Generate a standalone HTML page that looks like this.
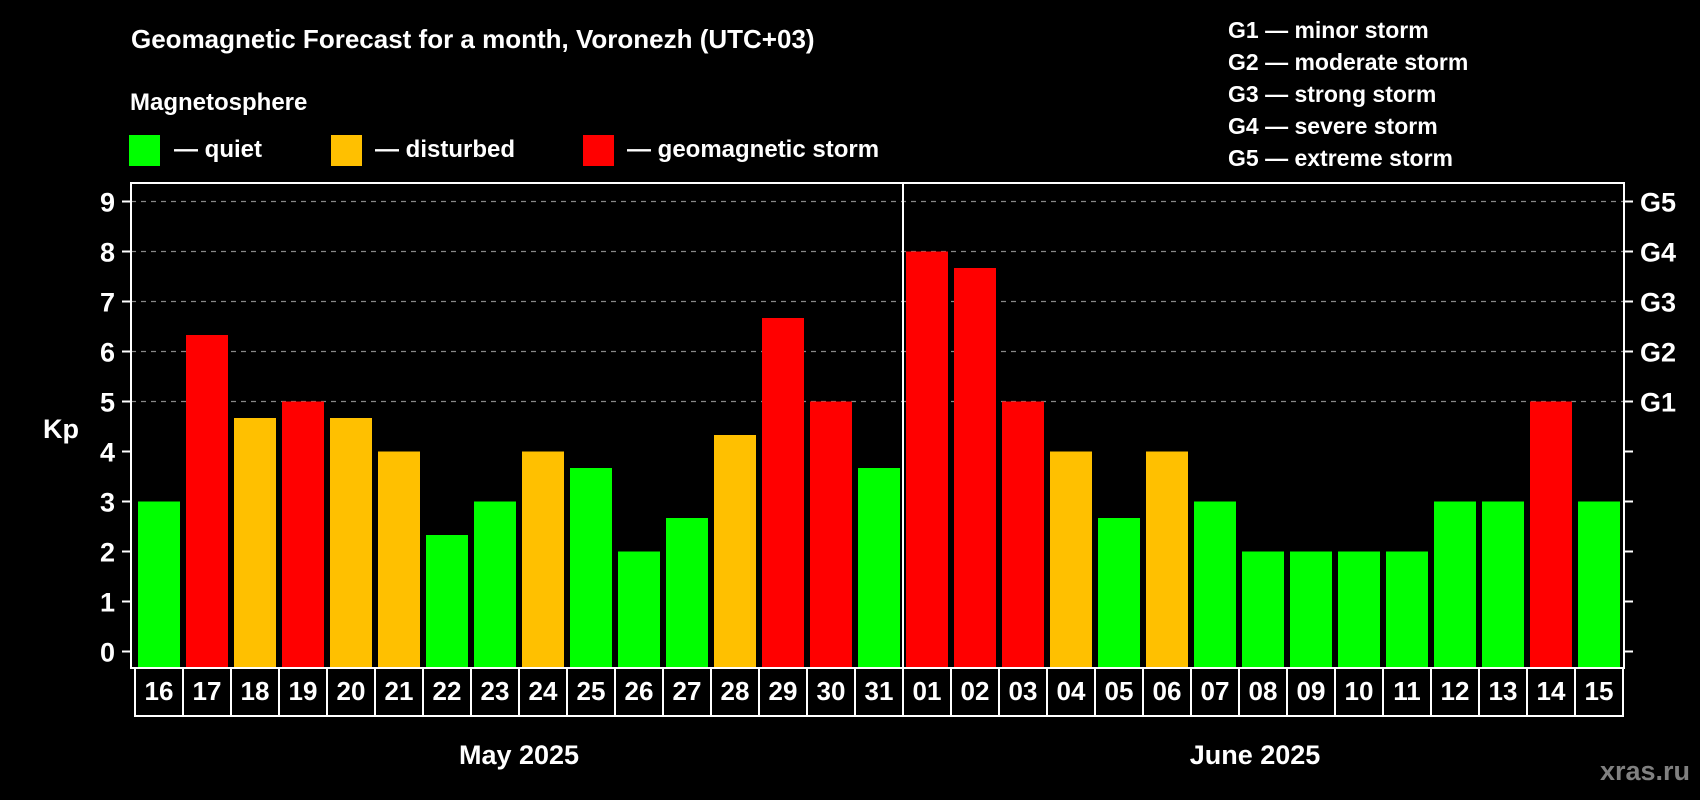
<!DOCTYPE html>
<html><head><meta charset="utf-8">
<style>
body{margin:0;background:#000;width:1700px;height:800px;overflow:hidden}
svg{display:block;font-family:"Liberation Sans",Arial,sans-serif;font-weight:bold}
</style></head><body>
<svg id="c" width="1700" height="800" viewBox="0 0 1700 800">
<rect width="1700" height="800" fill="#000"/>
<text x="131" y="48" font-size="26" fill="#fff">Geomagnetic Forecast for a month, Voronezh (UTC+03)</text>
<text x="130" y="110" font-size="24" fill="#fff">Magnetosphere</text>
<g><rect x="129" y="135" width="31" height="31" fill="#00ff00"/><text x="174" y="157" font-size="24" fill="#fff">— quiet</text></g>
<g><rect x="331" y="135" width="31" height="31" fill="#ffc000"/><text x="375" y="157" font-size="24" fill="#fff">— disturbed</text></g>
<g><rect x="583" y="135" width="31" height="31" fill="#ff0000"/><text x="627" y="157" font-size="24" fill="#fff">— geomagnetic storm</text></g>
<g font-size="23" fill="#fff">
<text x="1228" y="38">G1 — minor storm</text>
<text x="1228" y="70">G2 — moderate storm</text>
<text x="1228" y="102">G3 — strong storm</text>
<text x="1228" y="134">G4 — severe storm</text>
<text x="1228" y="166">G5 — extreme storm</text>
</g>
<text x="43" y="438" font-size="27" fill="#fff">Kp</text>
<g id="grid"></g><g id="bars"></g><g id="axes"></g>
<text x="519" y="764" font-size="27" fill="#fff" text-anchor="middle">May 2025</text>
<text x="1255" y="764" font-size="27" fill="#fff" text-anchor="middle">June 2025</text>
<text x="1690" y="780" font-size="27" fill="#808080" text-anchor="end">xras.ru</text>
</svg>
<script>
const days=["16","17","18","19","20","21","22","23","24","25","26","27","28","29","30","31","01","02","03","04","05","06","07","08","09","10","11","12","13","14","15"];
const kp=[3,6.33,4.67,5,4.67,4,2.33,3,4,3.67,2,2.67,4.33,6.67,5,3.67,8,7.67,5,4,2.67,4,3,2,2,2,2,3,3,5,3];
const yTicks=[0,1,2,3,4,5,6,7,8,9];
const gLabels=["G1","G2","G3","G4","G5"];
const gLevels=[5,6,7,8,9];
const NS="http://www.w3.org/2000/svg";
const L=131,R=1624,T=183,B=668,bandX0=135,band=48,barW=42;
const y=v=>651.5-v*50;
const x=i=>bandX0+i*band;
function mk(tag,attrs,parent,txt){const e=document.createElementNS(NS,tag);for(const k in attrs)e.setAttribute(k,attrs[k]);if(txt!==undefined)e.textContent=txt;parent.appendChild(e);return e;}
const grid=document.getElementById('grid'),bars=document.getElementById('bars'),axes=document.getElementById('axes');
gLevels.forEach(v=>{const l=mk('line',{x1:L,x2:R,y1:y(v),y2:y(v),stroke:'#888','stroke-width':1.3,'stroke-dasharray':'5,5'},grid);

});
kp.forEach((v,i)=>{const col=v<4?'#00ff00':(v<5?'#ffc000':'#ff0000');
const r=mk('rect',{x:x(i)+3,y:y(v),width:barW,height:y(0)-y(v)+16.5,fill:col},bars);

});
const frame=mk('rect',{x:L,y:T,width:R-L,height:B-T,fill:'none',stroke:'#fff','stroke-width':2},axes);


const div=mk('line',{x1:x(16),x2:x(16),y1:T,y2:B,stroke:'#fff','stroke-width':2},axes);


yTicks.forEach(v=>{mk('line',{x1:L-9,x2:L,y1:y(v),y2:y(v),stroke:'#fff','stroke-width':2},axes);
mk('line',{x1:R,x2:R+9,y1:y(v),y2:y(v),stroke:'#fff','stroke-width':2},axes);
const t=mk('text',{x:115,y:y(v)+10,'font-size':27,fill:'#fff','text-anchor':'end'},axes,String(v));

});
gLevels.forEach((v,i)=>{const t=mk('text',{x:1640,y:y(v)+10,'font-size':27,fill:'#fff'},axes,gLabels[i]);

});
mk('rect',{x:x(0),y:B,width:band*days.length,height:48,fill:'none',stroke:'#fff','stroke-width':2},axes);
days.forEach((d,i)=>{if(i>0)mk('line',{x1:x(i),x2:x(i),y1:B,y2:B+48,stroke:'#fff','stroke-width':2},axes);
const t=mk('text',{x:x(i)+band/2,y:700,'font-size':26,fill:'#fff','text-anchor':'middle'},axes,d);

});
</script>
</body></html>
